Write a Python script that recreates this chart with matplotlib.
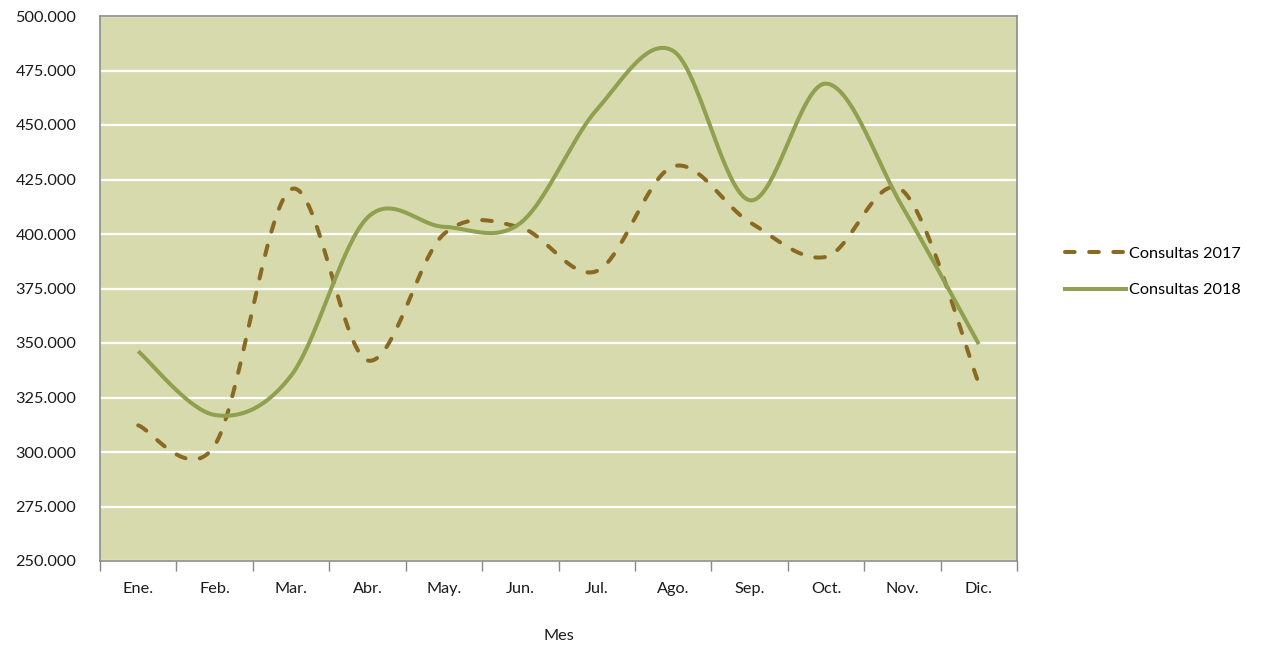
import numpy as np
import matplotlib
matplotlib.use("Agg")
import matplotlib.pyplot as plt
from matplotlib.lines import Line2D

meses = ["Ene.", "Feb.", "Mar.", "Abr.", "May.", "Jun.", "Jul.", "Ago.", "Sep.", "Oct.", "Nov.", "Dic."]
consultas_2017 = [312200, 303000, 420500, 342000, 400000, 403000, 383000, 431000, 405500, 389500, 420000, 331500]
consultas_2018 = [346200, 317000, 335000, 407500, 403300, 405000, 457000, 484000, 415500, 469000, 412500, 349500]
y_ticks = list(range(250000, 500001, 25000))

plt.rcParams['font.family'] = ['Lato', 'DejaVu Sans']

def smooth(xs, ys, n=40):
    xs = np.asarray(xs, float); ys = np.asarray(ys, float)
    px = np.concatenate([[xs[0]], xs, [xs[-1]]])
    py = np.concatenate([[ys[0]], ys, [ys[-1]]])
    outx, outy = [], []
    t = np.linspace(0, 1, n)
    for i in range(1, len(px) - 2):
        p0 = np.array([px[i], py[i]]); p3 = np.array([px[i + 1], py[i + 1]])
        p1 = p0 + (np.array([px[i + 1], py[i + 1]]) - np.array([px[i - 1], py[i - 1]])) / 6
        p2 = p3 - (np.array([px[i + 2], py[i + 2]]) - np.array([px[i], py[i]])) / 6
        b = ((1 - t) ** 3)[:, None] * p0 + (3 * (1 - t) ** 2 * t)[:, None] * p1 \
            + (3 * (1 - t) * t ** 2)[:, None] * p2 + (t ** 3)[:, None] * p3
        outx.extend(b[:, 0]); outy.extend(b[:, 1])
    return np.array(outx), np.array(outy)

fig = plt.figure(figsize=(12.66, 6.46), dpi=100)
ax = fig.add_axes([100 / 1266, 85 / 646, 917 / 1266, 545 / 646])
ax.set_facecolor('#D7DAAD')

x = np.arange(len(meses))
c17 = '#8A6A22'
c18 = '#8FA04E'

sx, sy = smooth(x, consultas_2017)
ax.plot(sx, sy, color=c17, lw=2.9, dashes=(2.4, 3.6), dash_capstyle='round', zorder=3)
sx, sy = smooth(x, consultas_2018)
ax.plot(sx, sy, color=c18, lw=2.9, solid_capstyle='butt', zorder=4)

ax.set_xlim(-0.5, len(meses) - 0.5)
ax.set_ylim(250000, 500000)
ax.set_yticks(y_ticks)
ax.set_yticklabels([f"{v:,}".replace(",", ".") for v in y_ticks], fontsize=11.7, color='#1a1a1a')
ax.tick_params(axis='y', length=0, pad=17)
ax.yaxis.grid(True, color='white', lw=1.6)
ax.set_axisbelow(True)

ax.set_xticks(np.arange(-0.5, len(meses), 1.0))
ax.set_xticklabels([])
ax.set_xticks(x, minor=True)
ax.set_xticklabels(meses, minor=True, fontsize=11.7, color='#1a1a1a')
ax.tick_params(axis='x', which='major', length=7, direction='out', color='#888888', width=1)
ax.tick_params(axis='x', which='minor', length=0, pad=15)

for s in ax.spines.values():
    s.set_color('#8c8c8c')
    s.set_linewidth(1.2)

ax.set_xlabel('Mes', fontsize=11.7, labelpad=24, color='#1a1a1a')

handles = [Line2D([], [], color=c17, lw=2.9, dashes=(2.4, 3.6), dash_capstyle='round'),
           Line2D([], [], color=c18, lw=2.9)]
fig.legend(handles, ['Consultas 2017', 'Consultas 2018'], loc='center left',
           bbox_to_anchor=(1050 / 1266, 1 - 272 / 646), frameon=False, fontsize=11.7,
           handlelength=3.8, handletextpad=0.15, labelspacing=1.35)

fig.savefig('out.png', dpi=100)
